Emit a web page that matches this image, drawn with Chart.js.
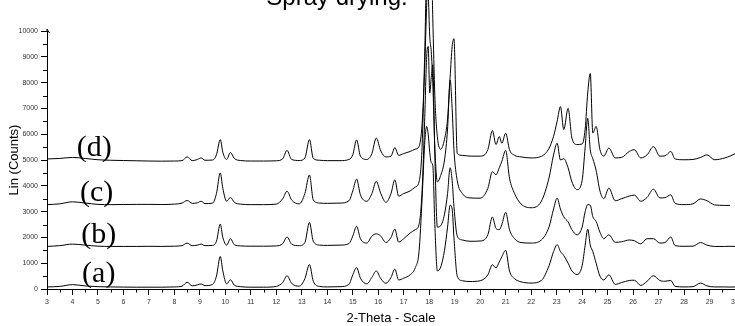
<!DOCTYPE html>
<html><head><meta charset="utf-8">
<script src="https://cdn.jsdelivr.net/npm/chart.js@4"></script>
<style>html,body{margin:0;padding:0;background:#fff;overflow:hidden}#wrap{width:735px;height:326px;position:relative}</style>
</head><body><div id="wrap"><canvas id="c" width="735" height="326"></canvas></div>
<script>
const twoTheta = [3.0,3.5,4.0,4.5,5.0,5.5,6.0,6.5,7.0,7.5,
 8.0,8.3,8.5,8.7,8.9,9.05,9.2,9.5,9.65,9.8,
 9.9,10.05,10.2,10.35,10.6,11.0,11.5,12.0,12.25,12.42,
 12.6,12.9,13.12,13.3,13.45,13.7,14.0,14.5,14.85,15.0,
 15.15,15.3,15.55,15.75,15.92,16.1,16.3,16.5,16.65,16.8,
 17.0,17.25,17.45,17.6,17.72,17.82,17.9,17.96,18.02,18.08,
 18.14,18.22,18.32,18.45,18.6,18.72,18.82,18.9,18.97,19.1,
 19.3,19.6,20.0,20.3,20.48,20.62,20.75,20.85,21.0,21.15,
 21.35,21.6,22.0,22.4,22.7,22.88,23.02,23.15,23.28,23.45,
 23.6,23.8,24.0,24.12,24.22,24.32,24.42,24.55,24.7,24.85,
 25.05,25.3,25.55,25.85,26.05,26.3,26.55,26.8,27.05,27.25,
 27.48,27.65,28.0,28.35,28.65,28.9,29.2,29.6,29.8,30.0];

const countsD = [5040,5060,5100,5060,5010,4990,4980,4970,4960,4955,
 4960,4975,5120,4975,5020,5080,4990,5000,5200,5790,
 5300,5020,5290,5060,4980,4960,4960,4970,5050,5370,
 5020,4980,5080,5790,5060,4990,4975,4975,5020,5200,
 5780,5150,5020,5250,5850,5350,5120,5150,5480,5180,
 5250,5330,5420,5520,6400,8500,11000,12500,12000,12800,
 10500,7500,5900,5420,5800,6600,8200,9400,9700,5250,
 5180,5150,5150,5400,6140,5600,5910,5650,6040,5400,
 5180,5120,5080,5140,5450,5920,6500,7070,6180,7000,
 5850,5600,5620,6200,7600,8350,6050,6300,5400,5150,
 5460,5080,5100,5330,5400,5080,5200,5520,5150,5160,
 5330,5040,5010,5020,5100,5200,5010,5080,5150,5240];

const countsC = [3270,3300,3380,3330,3280,3270,3275,3280,3280,3275,
 3290,3330,3430,3320,3340,3400,3310,3330,3700,4500,
 3900,3400,3550,3360,3290,3270,3270,3290,3500,3790,
 3450,3300,3700,4420,3450,3330,3320,3330,3420,3800,
 4260,3650,3400,3700,4170,3700,3360,3700,4230,3600,
 3700,3800,3950,4150,5500,9000,12000,11500,9800,9200,
 8000,5500,4150,4400,5000,6200,8100,7000,5400,4200,
 3700,3530,3520,3900,4550,4430,4700,4950,5370,4300,
 3700,3300,3150,3400,4300,5200,5650,5000,5050,4700,
 4150,3850,4200,5500,6620,5400,5050,4600,3800,3500,
 3910,3420,3500,3600,3640,3400,3550,3870,3530,3540,
 3650,3320,3270,3300,3490,3420,3260,3240,3240,null];

const countsB = [1650,1680,1740,1700,1660,1650,1650,1650,1655,1650,
 1660,1680,1780,1680,1700,1740,1680,1690,1850,2520,
 2000,1700,1950,1720,1670,1660,1660,1670,1760,2015,
 1740,1680,1800,2580,1850,1700,1690,1700,1760,2050,
 2430,1950,1780,2050,2140,2050,1800,2000,2320,1820,
 1950,2170,2300,2500,3800,6500,9000,9400,7600,8200,
 8690,5200,2400,2450,2900,3700,4700,4200,3200,2050,
 1900,1850,1860,2100,2790,2350,2300,2500,2970,2300,
 1950,1800,1780,1900,2400,3100,3520,3100,2800,2600,
 2300,2100,2400,3000,3270,3250,2800,2620,2200,1950,
 2100,1810,1830,1900,1870,1750,1950,1950,1780,1800,
 2015,1680,1655,1660,1800,1700,1650,1650,1655,1650];

const countsA = [80,100,170,120,90,80,75,70,70,70,
 80,110,260,120,160,195,130,180,500,1260,
 700,200,360,150,90,70,70,100,250,515,
 220,110,400,950,300,100,80,90,180,550,
 830,420,200,450,700,400,220,450,770,350,
 420,550,820,1450,3500,5600,6300,6000,5300,4900,
 4800,2500,700,850,1500,2400,3250,3100,2000,500,
 320,290,320,550,940,820,1050,1250,1500,700,
 400,280,230,330,900,1450,1720,1450,1300,1000,
 700,560,900,1700,2320,1700,1450,1000,500,350,
 550,180,250,330,340,140,300,515,330,300,
 330,100,80,90,230,120,80,80,75,80];

const seriesNames = ['(a)','(b)','(c)','(d)'];
const seriesCounts = [countsA, countsB, countsC, countsD];
const labelTheta = [5.03, 5.03, 4.95, 4.85];
const labelCounts = [283, 1771, 3411, 5143];
const titleText = 'Spray drying.';
const xTitle = '2-Theta - Scale';
const yTitle = 'Lin (Counts)';

const SANS = '"Liberation Sans", Arial, sans-serif';
const SERIF = '"Liberation Serif", "Times New Roman", serif';

const decor = {
  id: 'decor',
  afterDraw(chart) {
    const ctx = chart.ctx, xs = chart.scales.x, ys = chart.scales.y;
    ctx.save();
    ctx.strokeStyle = '#000'; ctx.lineWidth = 1;
    ctx.beginPath();
    for (let v = 3.5; v < 30; v += 1) {
      const px = Math.round(xs.getPixelForValue(v)) + 0.5;
      ctx.moveTo(px, ys.bottom); ctx.lineTo(px, ys.bottom + 3.5);
    }
    for (let v = 500; v < 10000; v += 1000) {
      const py = Math.round(ys.getPixelForValue(v)) + 0.5;
      ctx.moveTo(xs.left, py); ctx.lineTo(xs.left - 4, py);
    }
    ctx.moveTo(xs.left, ys.top - 2); ctx.lineTo(xs.left + 2.5, ys.top + 2);
    ctx.moveTo(xs.left, ys.top - 2); ctx.lineTo(xs.left, ys.top);
    ctx.stroke();
    ctx.fillStyle = '#000';
    ctx.font = '24px ' + SANS;
    ctx.textAlign = 'center'; ctx.textBaseline = 'alphabetic';
    ctx.fillText(titleText, 337, 5);
    ctx.font = '30px ' + SERIF;
    seriesNames.forEach((n, i) => {
      ctx.fillText(n, xs.getPixelForValue(labelTheta[i]), ys.getPixelForValue(labelCounts[i]));
    });
    ctx.restore();
  }
};

const datasets = seriesCounts.map((arr, i) => ({
  label: seriesNames[i],
  data: twoTheta.map((t, j) => ({x: t, y: arr[j]})),
  borderColor: '#000', borderWidth: 1, pointRadius: 0, fill: false,
  clip: false, cubicInterpolationMode: 'monotone', spanGaps: false
}));

new Chart(document.getElementById('c'), {
  type: 'line',
  data: { datasets },
  plugins: [decor],
  options: {
    responsive: false, devicePixelRatio: 1, animation: false,
    layout: { padding: { top: 31, left: 0, right: 0, bottom: 0 } },
    plugins: { legend: { display: false }, tooltip: { enabled: false }, title: { display: false } },
    scales: {
      x: {
        type: 'linear', min: 3, max: 30,
        ticks: { stepSize: 1, autoSkip: false, maxRotation: 0, padding: 3, color: '#333', font: { size: 7, family: SANS }, callback: v => String(v) },
        grid: { drawOnChartArea: false, drawTicks: true, tickLength: 6, color: '#000', tickColor: '#000' },
        border: { display: true, color: '#000', width: 1 },
        title: { display: true, text: xTitle, color: '#000', font: { size: 13, family: SANS }, padding: { top: 0, bottom: 0 } },
        afterFit(s) { s.height = 37; s.paddingLeft = 0; s.paddingRight = 0; }
      },
      y: {
        min: 0, max: 10000,
        ticks: { stepSize: 1000, padding: 3, color: '#333', font: { size: 7, family: SANS }, callback: v => String(v) },
        grid: { drawOnChartArea: false, drawTicks: true, tickLength: 6, color: '#000', tickColor: '#000' },
        border: { display: true, color: '#000', width: 1 },
        title: { display: true, text: yTitle, color: '#000', font: { size: 13, family: SANS }, padding: { top: 7, bottom: 0 } },
        afterFit(s) { s.width = 47; }
      }
    }
  }
});
</script></body></html>
